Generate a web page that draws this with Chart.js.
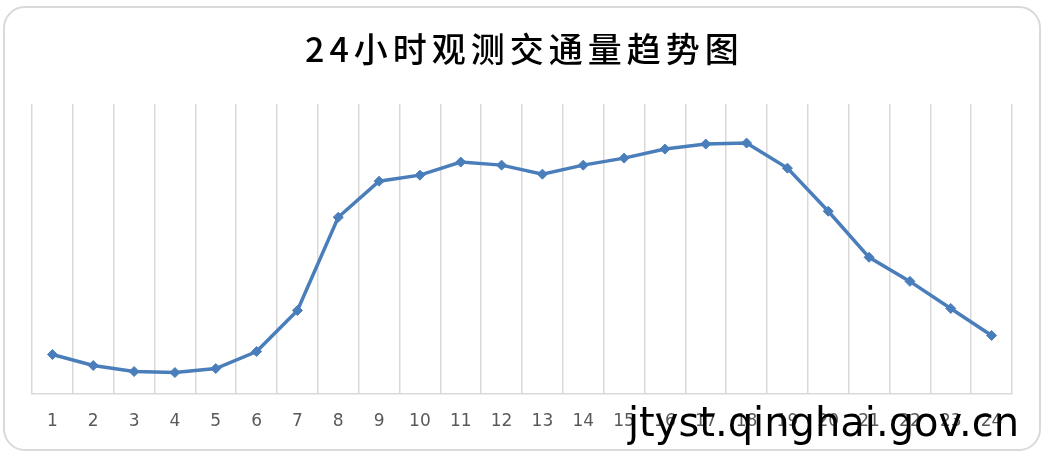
<!DOCTYPE html>
<html>
<head>
<meta charset="utf-8">
<script src="https://cdn.jsdelivr.net/npm/chart.js@4"></script>
<style>
    html, body { margin: 0; padding: 0; background: #fff; }
    #wrap { position: relative; width: 1047px; height: 456px; }
    #frame {
        position: absolute; left: 3px; top: 6px; width: 1034px; height: 441px;
        border: 2px solid #d9d9d9; border-radius: 22px; box-sizing: content-box;
    }
    #title {
        position: absolute; left: 32px; width: 985px; top: 28px;
        text-align: center; font-family: "Noto Sans CJK SC", sans-serif;
        font-size: 34px; line-height: 40px; letter-spacing: 5px; color: #000;
        font-weight: 500;
    }
    #mark {
        position: absolute; left: 628px; top: 399px;
        font-family: "DejaVu Sans", sans-serif; font-size: 40px; color: #000;
        line-height: 46px; white-space: nowrap;
    }
    canvas { position: absolute; left: 0; top: 0; }
</style>
</head>
<body>
<div id="wrap">
    <div id="frame"></div>
    <canvas id="trafficTrend" width="1047" height="456"></canvas>
    <div id="title">24小时观测交通量趋势图</div>
    <div id="mark">jtyst.qinghai.gov.cn</div>
</div>
<script>
// hours of the day
const hours = ['1', '2', '3', '4', '5', '6', '7', '8', '9', '10', '11', '12',
    '13', '14', '15', '16', '17', '18', '19', '20', '21', '22', '23', '24'];

const volumes = [390, 280, 220, 210, 250, 420, 830, 1760, 2120, 2180, 2310, 2280,
    2190, 2280, 2350, 2440, 2490, 2500, 2250, 1820, 1360, 1120, 850, 580];

const yMin = 0;
const yMax = 2890;

const ctx = document.getElementById('trafficTrend');

new Chart(ctx, {
    type: 'line',
    data: {
        labels: hours,
        datasets: [{
            label: '交通量',
            data: volumes,
            borderColor: '#4a7ebb',
            backgroundColor: '#4a7ebb',
            borderWidth: 3.5,
            pointStyle: 'rectRot',
            pointRadius: 5,
            pointBorderWidth: 1,
            tension: 0
        }]
    },
    options: {
        responsive: false,
        animation: false,
        layout: {
            padding: {left: 32, right: 35, top: 104, bottom: 6}
        },
        plugins: {
            legend: {display: false},
            tooltip: {enabled: false},
            title: {display: false}
        },
        scales: {
            x: {
                offset: true,
                grid: {
                    offset: true,
                    color: '#d9d9d9',
                    lineWidth: 1.5,
                    drawTicks: false
                },
                border: {color: '#d9d9d9', width: 1.5},
                ticks: {
                    color: '#595959',
                    padding: 18,
                    font: {family: '"DejaVu Sans", sans-serif', size: 17}
                }
            },
            y: {
                display: false,
                min: yMin,
                max: yMax
            }
        }
    }
});
</script>
</body>
</html>
